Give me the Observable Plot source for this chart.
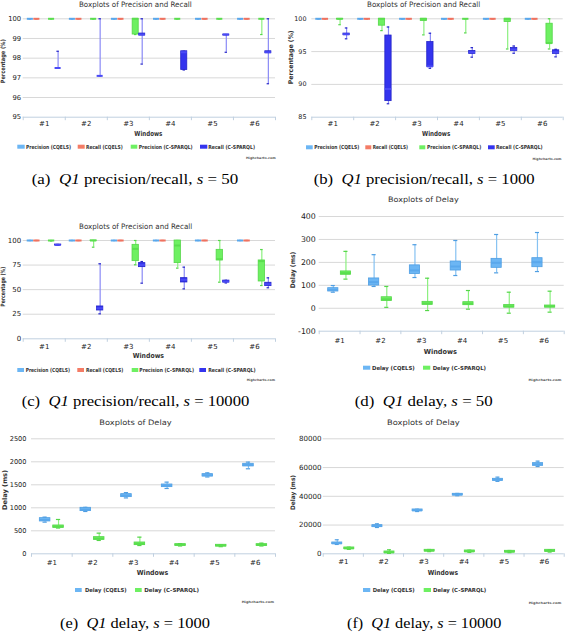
<!DOCTYPE html>
<html><head><meta charset="utf-8">
<script src="https://cdn.jsdelivr.net/npm/d3@7"></script>
<script src="https://cdn.jsdelivr.net/npm/@observablehq/plot@0.6"></script>
<style>
html,body{margin:0;padding:0;background:#fff;}
#fig{position:relative;width:565px;height:632px;overflow:hidden;background:#fff;}
#fig svg{position:absolute;overflow:visible;}
</style></head><body><div id="fig"></div>
<script>
// ---------- DATA: each box = [low, q1, median, q3, high] ----------
const windows = ["#1","#2","#3","#4","#5","#6"];
const prSeriesNames = ["Precision (CQELS)","Recall (CQELS)","Precision (C-SPARQL)","Recall (C-SPARQL)"];
const delaySeriesNames = ["Delay (CQELS)","Delay (C-SPARQL)"];

// (a) precision/recall, s = 50
const aPrecisionCQELS = [[100,100,100,100,100],[100,100,100,100,100],[100,100,100,100,100],[100,100,100,100,100],[100,100,100,100,100],[100,100,100,100,100]];
const aRecallCQELS    = [[100,100,100,100,100],[100,100,100,100,100],[100,100,100,100,100],[100,100,100,100,100],[100,100,100,100,100],[100,100,100,100,100]];
const aPrecisionCSPARQL = [[100,100,100,100,100],[100,100,100,100,100],[99.2,99.2,100,100,100],[100,100,100,100,100],[100,100,100,100,100],[99.2,100,100,100,100]];
const aRecallCSPARQL    = [[97.5,97.5,97.5,97.5,98.35],[97.1,97.1,97.1,97.1,100],[97.7,99.15,99.2,99.25,100],[97.4,97.4,98.3,98.35,98.35],[98.3,99.15,99.2,99.2,99.2],[96.7,98.25,98.3,98.35,100]];

// (b) precision/recall, s = 1000
const bPrecisionCQELS = [[100,100,100,100,100],[100,100,100,100,100],[100,100,100,100,100],[100,100,100,100,100],[100,100,100,100,100],[100,100,100,100,100]];
const bRecallCQELS    = [[100,100,100,100,100],[100,100,100,100,100],[100,100,100,100,100],[100,100,100,100,100],[100,100,100,100,100],[100,100,100,100,100]];
const bPrecisionCSPARQL = [[99.1,99.9,100,100,100],[98.2,98.95,100,100,100],[97.55,99.65,100,100,100],[97.85,100,100,100,100],[95.4,99.5,100,100,100],[95.4,96.2,96.3,99.25,100]];
const bRecallCSPARQL    = [[96.95,97.5,97.65,97.75,98.6],[87.05,87.45,89.3,97.45,98.75],[92.45,92.65,92.75,96.45,97.8],[94.15,94.65,94.9,95.1,95.6],[94.75,95.1,95.3,95.55,95.85],[94.2,94.65,94.9,95.2,95.35]];

// (c) precision/recall, s = 10000
const cPrecisionCQELS = [[100,100,100,100,100],[100,100,100,100,100],[100,100,100,100,100],[100,100,100,100,100],[100,100,100,100,100],[100,100,100,100,100]];
const cRecallCQELS    = [[100,100,100,100,100],[100,100,100,100,100],[100,100,100,100,100],[100,100,100,100,100],[100,100,100,100,100],[100,100,100,100,100]];
const cPrecisionCSPARQL = [[99.5,100,100,100,100],[93.2,99.5,100,100,100],[75.3,79,91.5,95.6,100],[71.9,77,94.9,100,100],[57.6,79.7,81,90.5,100],[54.2,58.3,79,79.7,90.8]];
const cRecallCSPARQL    = [[95,95.1,95.5,95.9,96],[25.4,28.8,31,32.9,76.3],[56.6,72.9,75,77,78.6],[50.8,57.3,60,61.7,72.9],[56.8,57.2,58.3,59.2,59.5],[51.9,53.6,55.5,57,62]];

// (d) delay, s = 50
const dDelayCQELS   = [[70,73,80,87.6,99],[95,99,114,130,233.6],[134,149,165,187,277],[142.7,164.5,182,203.8,295.3],[154.4,176.2,198,215.4,321.5],[160,179,200.9,218.3,330.2]];
const dDelayCSPARQL = [[127,146,153,160.6,248],[4,32,39,48,95],[-10,15,21,28,131],[-4,13.4,20,26.5,77.3],[-21.5,3,8,14,70],[-17,3,8,12,74.4]];

// (e) delay, s = 1000
const eDelayCQELS   = [[688,703,735,775,797],[920,928,960,1000,1010],[1215,1232,1265,1297,1330],[1420,1449,1480,1507,1558],[1670,1681,1705,1732,1760],[1848,1899,1930,1957,1993]];
const eDelayCSPARQL = [[560,565,590,616,746],[290,304,330,362,449],[180,188,215,246,362],[170,174,195,210,220],[155,159,180,196,200],[170,174,192,210,232]];

// (f) delay, s = 10000
const fDelayCQELS   = [[6500,6725,7300,7884,9739],[18300,18551,19300,19942,20870],[29400,29681,30200,30841,31000],[40400,40580,41200,41739,42000],[50400,50783,51500,52174,53333],[60700,61217,62200,63072,64464]];
const fDelayCSPARQL = [[3100,3246,3800,4406,4600],[300,464,1000,1623,2783],[1500,1623,2200,2783,3000],[1000,1159,1700,2319,2500],[800,928,1500,2087,2300],[1200,1391,2100,2783,2900]];

// ---------- STYLES ----------
const colBlue  = {fill:"#6cb6f4", stroke:"#4f9ee2", med:"#5aa8ec", whisk:"#86c2f2"};
const colRed   = {fill:"#f47c66", stroke:"#ea6a54", med:"#ef7260", whisk:"#f49a8a"};
const colGreen = {fill:"#6ef062", stroke:"#54d648", med:"#5ade4e", whisk:"#8cf080"};
const colDBlue = {fill:"#3434ee", stroke:"#2323c8", med:"#4a4af6", whisk:"#8a8af6"};

const fontSans = "'DejaVu Sans', 'Liberation Sans', sans-serif";

function boxMarks(data, offset, hw, col) {
  const rows = data.map((d, i) => ({x: i + 1 + offset, low: d[0], q1: d[1], med: d[2], q3: d[3], high: d[4]}));
  const cw = hw * 0.4;
  return [
    Plot.ruleX(rows, {x: "x", y1: "low", y2: "high", stroke: col.whisk, strokeWidth: 1.2}),
    Plot.ruleY(rows, {y: "high", x1: d => d.x - cw, x2: d => d.x + cw, stroke: col.stroke, strokeWidth: 1.2}),
    Plot.ruleY(rows, {y: "low", x1: d => d.x - cw, x2: d => d.x + cw, stroke: col.stroke, strokeWidth: 1.2}),
    Plot.rect(rows, {x1: d => d.x - hw, x2: d => d.x + hw, y1: "q1", y2: "q3", fill: col.fill, stroke: col.stroke, strokeWidth: 0.8}),
    Plot.ruleY(rows, {y: "med", x1: d => d.x - hw, x2: d => d.x + hw, stroke: col.med, strokeWidth: 2})
  ];
}

function panel(cfg) {
  const yTicks = d3.range(cfg.yDomain[0], cfg.yDomain[1] + cfg.yStep / 2, cfg.yStep);
  const marks = [
    Plot.gridY(yTicks.slice(1), {stroke: "#d8d8d8", strokeOpacity: 1, strokeWidth: 1}),
    Plot.ruleY([cfg.yDomain[0]], {stroke: "#c0d0e0", strokeWidth: 1}),
    Plot.axisX(d3.range(0.5, 7, 1), {tickSize: 3.5, stroke: "#c0d0e0", strokeOpacity: 1, tickFormat: () => "", label: null}),
    Plot.axisX(d3.range(1, 7), {tickSize: 0, tickPadding: cfg.xPad, tickFormat: d => windows[d - 1], fontSize: cfg.xFont, fill: "#222", label: null}),
    Plot.axisY(yTicks, {tickSize: 0, tickPadding: cfg.yPad, tickFormat: d => String(d), fontSize: cfg.yFont, fill: "#222", label: null})
  ];
  cfg.series.forEach((s, i) => marks.push(...boxMarks(s[0], cfg.offsets[i], cfg.hw, s[1])));
  const svg = Plot.plot({
    width: cfg.width, height: cfg.height,
    marginLeft: cfg.mL, marginRight: cfg.mR, marginTop: cfg.mT, marginBottom: cfg.mB,
    x: {type: "linear", domain: [0.5, 6.5], label: null},
    y: {type: "linear", domain: cfg.yDomain, label: null},
    style: {fontFamily: fontSans, background: "transparent", overflow: "visible", color: "#222"},
    marks
  });
  svg.style.left = cfg.left + "px";
  svg.style.top = cfg.top + "px";
  document.getElementById("fig").appendChild(svg);
}

const prOffsets = [-0.33, -0.175, 0.175, 0.33];

panel({left: 0, top: 6, width: 283, height: 124, mL: 22.7, mR: 8, mT: 12.3, mB: 13.3,
  yDomain: [95, 100], yStep: 1, yFont: 6.8, yPad: 2, xFont: 7, xPad: 4.1, offsets: prOffsets, hw: 0.072,
  series: [[aPrecisionCQELS, colBlue], [aRecallCQELS, colRed], [aPrecisionCSPARQL, colGreen], [aRecallCSPARQL, colDBlue]]});
panel({left: 282, top: 6, width: 283, height: 124, mL: 29.3, mR: 2.3, mT: 12.3, mB: 13.3,
  yDomain: [85, 100], yStep: 5, yFont: 6.4, yPad: 5.3, xFont: 7, xPad: 4.1, offsets: prOffsets, hw: 0.075,
  series: [[bPrecisionCQELS, colBlue], [bRecallCQELS, colRed], [bPrecisionCSPARQL, colGreen], [bRecallCSPARQL, colDBlue]]});
panel({left: 0, top: 228, width: 283, height: 124, mL: 22.7, mR: 8, mT: 12, mB: 13.7,
  yDomain: [0, 100], yStep: 25, yFont: 7, yPad: 2, xFont: 7, xPad: 4.9, offsets: prOffsets, hw: 0.075,
  series: [[cPrecisionCQELS, colBlue], [cRecallCQELS, colRed], [cPrecisionCSPARQL, colGreen], [cRecallCSPARQL, colDBlue]]});
panel({left: 282, top: 204, width: 283, height: 140, mL: 36.7, mR: 1.3, mT: 12, mB: 13.3,
  yDomain: [-100, 400], yStep: 100, yFont: 7.8, yPad: 3.4, xFont: 7, xPad: 6.6, offsets: [-0.155, 0.155], hw: 0.125,
  series: [[dDelayCQELS, colBlue], [dDelayCSPARQL, colGreen]]});
panel({left: 0, top: 426, width: 283, height: 140, mL: 31, mR: 8, mT: 12.3, mB: 12.7,
  yDomain: [0, 2500], yStep: 500, yFont: 6.6, yPad: 5, xFont: 7, xPad: 5.9, offsets: [-0.165, 0.165], hw: 0.13,
  series: [[eDelayCQELS, colBlue], [eDelayCSPARQL, colGreen]]});
panel({left: 282, top: 426, width: 283, height: 140, mL: 40.7, mR: 1.3, mT: 12.3, mB: 12.7,
  yDomain: [0, 80000], yStep: 20000, yFont: 7.1, yPad: 1.7, xFont: 7, xPad: 5.5, offsets: [-0.15, 0.15], hw: 0.125,
  series: [[fDelayCQELS, colBlue], [fDelayCSPARQL, colGreen]]});

// ---------- TEXT OVERLAY (titles, axis titles, legends, captions) ----------
const ov = d3.select("#fig").append("svg").attr("width", 565).attr("height", 632)
  .style("left", "0px").style("top", "0px").style("pointer-events", "none");

function txt(x, y, t, o) {
  const el = ov.append("text").attr("x", x).attr("y", y).text(t)
    .attr("font-family", o.family || fontSans).attr("font-size", o.size)
    .attr("font-weight", o.weight || "normal").attr("fill", o.fill || "#333");
  if (o.len) el.attr("textLength", o.len).attr("lengthAdjust", "spacingAndGlyphs");
  return el;
}

// chart titles
[[79, 6.7, 112.7, "Boxplots of Precision and Recall"], [367, 6.7, 113.3, "Boxplots of Precision and Recall"],
 [79, 228.5, 113.3, "Boxplots of Precision and Recall"], [388, 202, 70.7, "Boxplots of Delay"],
 [99.3, 424.5, 72.4, "Boxplots of Delay"], [387, 424.5, 72.7, "Boxplots of Delay"]]
 .forEach(([x, y, w, t]) => txt(x, y, t, {size: 7.5, len: w, fill: "#333"}));

// x-axis titles
[[134.3, 135.5, 28], [422, 135.5, 28.3], [132.7, 357.5, 31.3], [423.7, 353.5, 33.3], [136.7, 575.3, 31.6], [427.7, 575.3, 30.3]]
 .forEach(([x, y, w]) => txt(x, y, "Windows", {size: 7, weight: "bold", len: w, fill: "#333"}));

// y-axis titles (rotated)
[[3.3, 61.3, 44, "Percentage (%)", 6], [290.3, 57.3, 54, "Percentage (%)", 6.5], [3.3, 286.7, 40, "Percentage (%)", 6],
 [293.2, 270, 36.7, "Delay (ms)", 6.5], [5, 490, 40, "Delay (ms)", 6.5], [293, 492.5, 35, "Delay (ms)", 6.2]]
 .forEach(([cx, cy, len, t, s]) => {
   ov.append("text").attr("transform", `translate(${cx},${cy}) rotate(-90)`)
     .attr("text-anchor", "middle").attr("dy", "0.35em").attr("font-family", fontSans)
     .attr("font-size", s).attr("font-weight", "bold").attr("fill", "#333")
     .attr("textLength", len).attr("lengthAdjust", "spacingAndGlyphs").text(t);
 });

// legends
const prColors = [colBlue.fill, colRed.fill, colGreen.fill, colDBlue.fill];
const dlColors = [colBlue.fill, colGreen.fill];
function legend(cy, items, names, colors) {
  items.forEach(([s1, s2, t1, t2], i) => {
    ov.append("rect").attr("x", s1).attr("y", cy - 2).attr("width", s2 - s1).attr("height", 4).attr("fill", colors[i]);
    txt(t1, cy + 2, names[i], {size: 5.5, weight: "bold", len: t2 - t1, fill: "#333"});
  });
}
legend(146.7, [[17.3, 24.7, 26, 71], [77.7, 84.7, 86, 122.7], [130.7, 137.3, 138.7, 192.7], [200, 207.3, 208.3, 255]], prSeriesNames, prColors);
legend(147.3, [[306, 312.7, 314.3, 359.3], [365.3, 371.3, 372.7, 408], [419.3, 425.3, 427, 481.3], [488, 494.7, 496, 542.7]], prSeriesNames, prColors);
legend(370, [[17.3, 24, 25.7, 70], [77.3, 84, 86, 123.3], [131.7, 138.3, 139.3, 194], [199.3, 206, 208.3, 255.7]], prSeriesNames, prColors);
legend(367.7, [[363, 370.3, 372, 414.7], [423, 430.3, 432.7, 486]], delaySeriesNames, dlColors);
legend(590, [[75, 81.7, 85, 126.7], [135, 141.7, 144.3, 199]], delaySeriesNames, dlColors);
legend(590, [[363, 370.3, 372.7, 414.7], [423.7, 431, 433, 486.3]], delaySeriesNames, dlColors);

// credits
[[246, 158.7, 29.7], [532.5, 159.7, 29], [246.7, 381.4, 28.3], [528.5, 380.7, 33], [241.7, 603.1, 32.3], [528.8, 604.1, 32.5]]
 .forEach(([x, y, w]) => txt(x, y, "Highcharts.com", {size: 3.1, weight: "bold", len: w, fill: "#555"}));

// captions
const serif = "'Liberation Serif', 'DejaVu Serif', serif";
function caption(x, y, w, letter, kind, sval) {
  const el = ov.append("text").attr("x", x).attr("y", y).attr("font-family", serif)
    .attr("font-size", 14.5).attr("fill", "#000").attr("textLength", w).attr("lengthAdjust", "spacingAndGlyphs")
    .style("white-space", "pre");
  el.append("tspan").text(`(${letter})  `);
  el.append("tspan").attr("font-style", "italic").text("Q1");
  el.append("tspan").text(` ${kind}, `);
  el.append("tspan").attr("font-style", "italic").text("s");
  el.append("tspan").text(` = ${sval}`);
}
caption(31.7, 184.3, 206.6, "a", "precision/recall", "50");
caption(313.7, 184.3, 221, "b", "precision/recall", "1000");
caption(21.7, 405.7, 227.6, "c", "precision/recall", "10000");
caption(354.7, 406, 138, "d", "delay", "50");
caption(60, 628.3, 150, "e", "delay", "1000");
caption(347, 628.3, 154.3, "f", "delay", "10000");
</script></body></html>
